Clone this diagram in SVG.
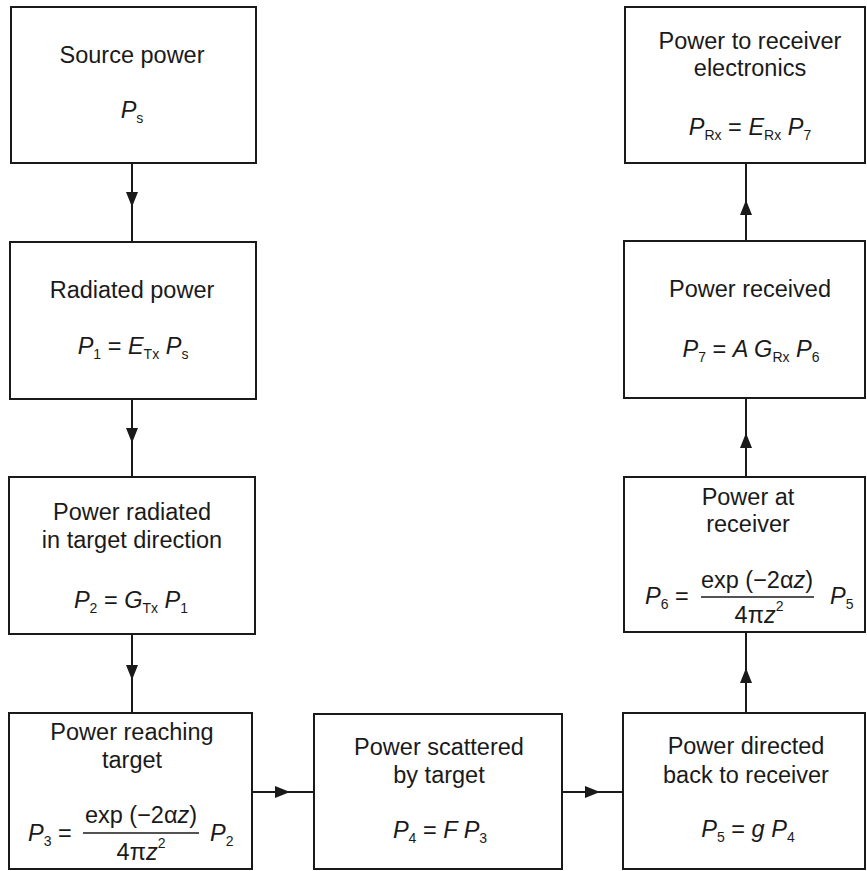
<svg xmlns="http://www.w3.org/2000/svg" width="867" height="871" viewBox="0 0 867 871">
<style>
.box{fill:#fff;stroke:#1a1a1a;stroke-width:2}
.t{font-family:"Liberation Sans",Arial,Helvetica,sans-serif;font-size:23.5px;fill:#1a1a1a;text-anchor:middle}
.s{text-anchor:start}
.i{font-style:italic}
.sb{font-size:14px}
.con{fill:none;stroke:#1a1a1a;stroke-width:2;marker-mid:url(#ah)}
.fl{stroke:#1a1a1a;stroke-width:1.5}
</style>
<defs>
<marker id="ah" viewBox="0 0 15 12" refX="15" refY="6" markerWidth="15" markerHeight="12" markerUnits="userSpaceOnUse" orient="auto">
<path d="M0,0 L15,6 L0,12 z" fill="#1a1a1a"/>
</marker>
</defs>
<rect width="867" height="871" fill="#fff"/>

<g id="connectors">
<path class="con" d="M132,163 L132,207 L132,242"/>
<path class="con" d="M132,399 L132,443 L132,477"/>
<path class="con" d="M132,634 L132,680 L132,713"/>
<path class="con" d="M252,792 L290,792 L314,792"/>
<path class="con" d="M562,792 L600,792 L623,792"/>
<path class="con" d="M746,713 L746,668 L746,632"/>
<path class="con" d="M746,477 L746,433 L746,398"/>
<path class="con" d="M746,241 L746,200 L746,163"/>
</g>

<g id="source">
<rect class="box" x="11" y="7" width="245" height="156"/>
<text class="t" x="132" y="63">Source power</text>
<text class="t" x="132" y="118"><tspan class="i">P</tspan><tspan class="sb" dy="5">s</tspan></text>
</g>

<g id="radiated">
<rect class="box" x="10" y="242" width="246" height="157"/>
<text class="t" x="132" y="298">Radiated power</text>
<text class="t" x="133" y="354"><tspan class="i">P</tspan><tspan class="sb" dy="5">1</tspan><tspan dy="-5"> = </tspan><tspan class="i">E</tspan><tspan class="sb" dy="5">Tx</tspan><tspan dy="-5"> </tspan><tspan class="i">P</tspan><tspan class="sb" dy="5">s</tspan></text>
</g>

<g id="target-direction">
<rect class="box" x="9" y="477" width="246" height="157"/>
<text class="t" x="132" y="520">Power radiated</text>
<text class="t" x="132" y="548">in target direction</text>
<text class="t" x="131" y="608"><tspan class="i">P</tspan><tspan class="sb" dy="5">2</tspan><tspan dy="-5"> = </tspan><tspan class="i">G</tspan><tspan class="sb" dy="5">Tx</tspan><tspan dy="-5"> </tspan><tspan class="i">P</tspan><tspan class="sb" dy="5">1</tspan></text>
</g>

<g id="reaching">
<rect class="box" x="9" y="713" width="243" height="156"/>
<text class="t" x="132" y="740">Power reaching</text>
<text class="t" x="132" y="768">target</text>
<text class="t s" x="28" y="841"><tspan class="i">P</tspan><tspan class="sb" dy="5">3</tspan><tspan dy="-5"> =</tspan></text>
<text class="t" x="141" y="823">exp (−2α<tspan class="i">z</tspan>)</text>
<line class="fl" x1="83" y1="833" x2="199" y2="833"/>
<text class="t" x="141" y="860">4π<tspan class="i">z</tspan><tspan class="sb" dy="-12">2</tspan></text>
<text class="t s" x="210" y="841"><tspan class="i">P</tspan><tspan class="sb" dy="5">2</tspan></text>
</g>

<g id="scattered">
<rect class="box" x="314" y="714" width="248" height="155"/>
<text class="t" x="439" y="755">Power scattered</text>
<text class="t" x="439" y="783">by target</text>
<text class="t" x="440" y="838"><tspan class="i">P</tspan><tspan class="sb" dy="5">4</tspan><tspan dy="-5"> = </tspan><tspan class="i">F P</tspan><tspan class="sb" dy="5">3</tspan></text>
</g>

<g id="directed-back">
<rect class="box" x="623" y="713" width="242" height="156"/>
<text class="t" x="746" y="754">Power directed</text>
<text class="t" x="746" y="783">back to receiver</text>
<text class="t" x="748" y="837"><tspan class="i">P</tspan><tspan class="sb" dy="5">5</tspan><tspan dy="-5"> = </tspan><tspan class="i">g P</tspan><tspan class="sb" dy="5">4</tspan></text>
</g>

<g id="at-receiver">
<rect class="box" x="624" y="477" width="241" height="155"/>
<text class="t" x="748" y="505">Power at</text>
<text class="t" x="748" y="532">receiver</text>
<text class="t s" x="645" y="604"><tspan class="i">P</tspan><tspan class="sb" dy="5">6</tspan><tspan dy="-5"> =</tspan></text>
<text class="t" x="757" y="588">exp (−2α<tspan class="i">z</tspan>)</text>
<line class="fl" x1="701" y1="597" x2="814" y2="597"/>
<text class="t" x="759" y="623">4π<tspan class="i">z</tspan><tspan class="sb" dy="-12">2</tspan></text>
<text class="t s" x="830" y="604"><tspan class="i">P</tspan><tspan class="sb" dy="5">5</tspan></text>
</g>

<g id="received">
<rect class="box" x="624" y="241" width="241" height="157"/>
<text class="t" x="750" y="297">Power received</text>
<text class="t" x="751" y="357"><tspan class="i">P</tspan><tspan class="sb" dy="5">7</tspan><tspan dy="-5"> = </tspan><tspan class="i">A G</tspan><tspan class="sb" dy="5">Rx</tspan><tspan dy="-5"> </tspan><tspan class="i">P</tspan><tspan class="sb" dy="5">6</tspan></text>
</g>

<g id="electronics">
<rect class="box" x="625" y="7" width="240" height="156"/>
<text class="t" x="750" y="49">Power to receiver</text>
<text class="t" x="750" y="76">electronics</text>
<text class="t" x="750" y="135"><tspan class="i">P</tspan><tspan class="sb" dy="5">Rx</tspan><tspan dy="-5"> = </tspan><tspan class="i">E</tspan><tspan class="sb" dy="5">Rx</tspan><tspan dy="-5"> </tspan><tspan class="i">P</tspan><tspan class="sb" dy="5">7</tspan></text>
</g>
</svg>
